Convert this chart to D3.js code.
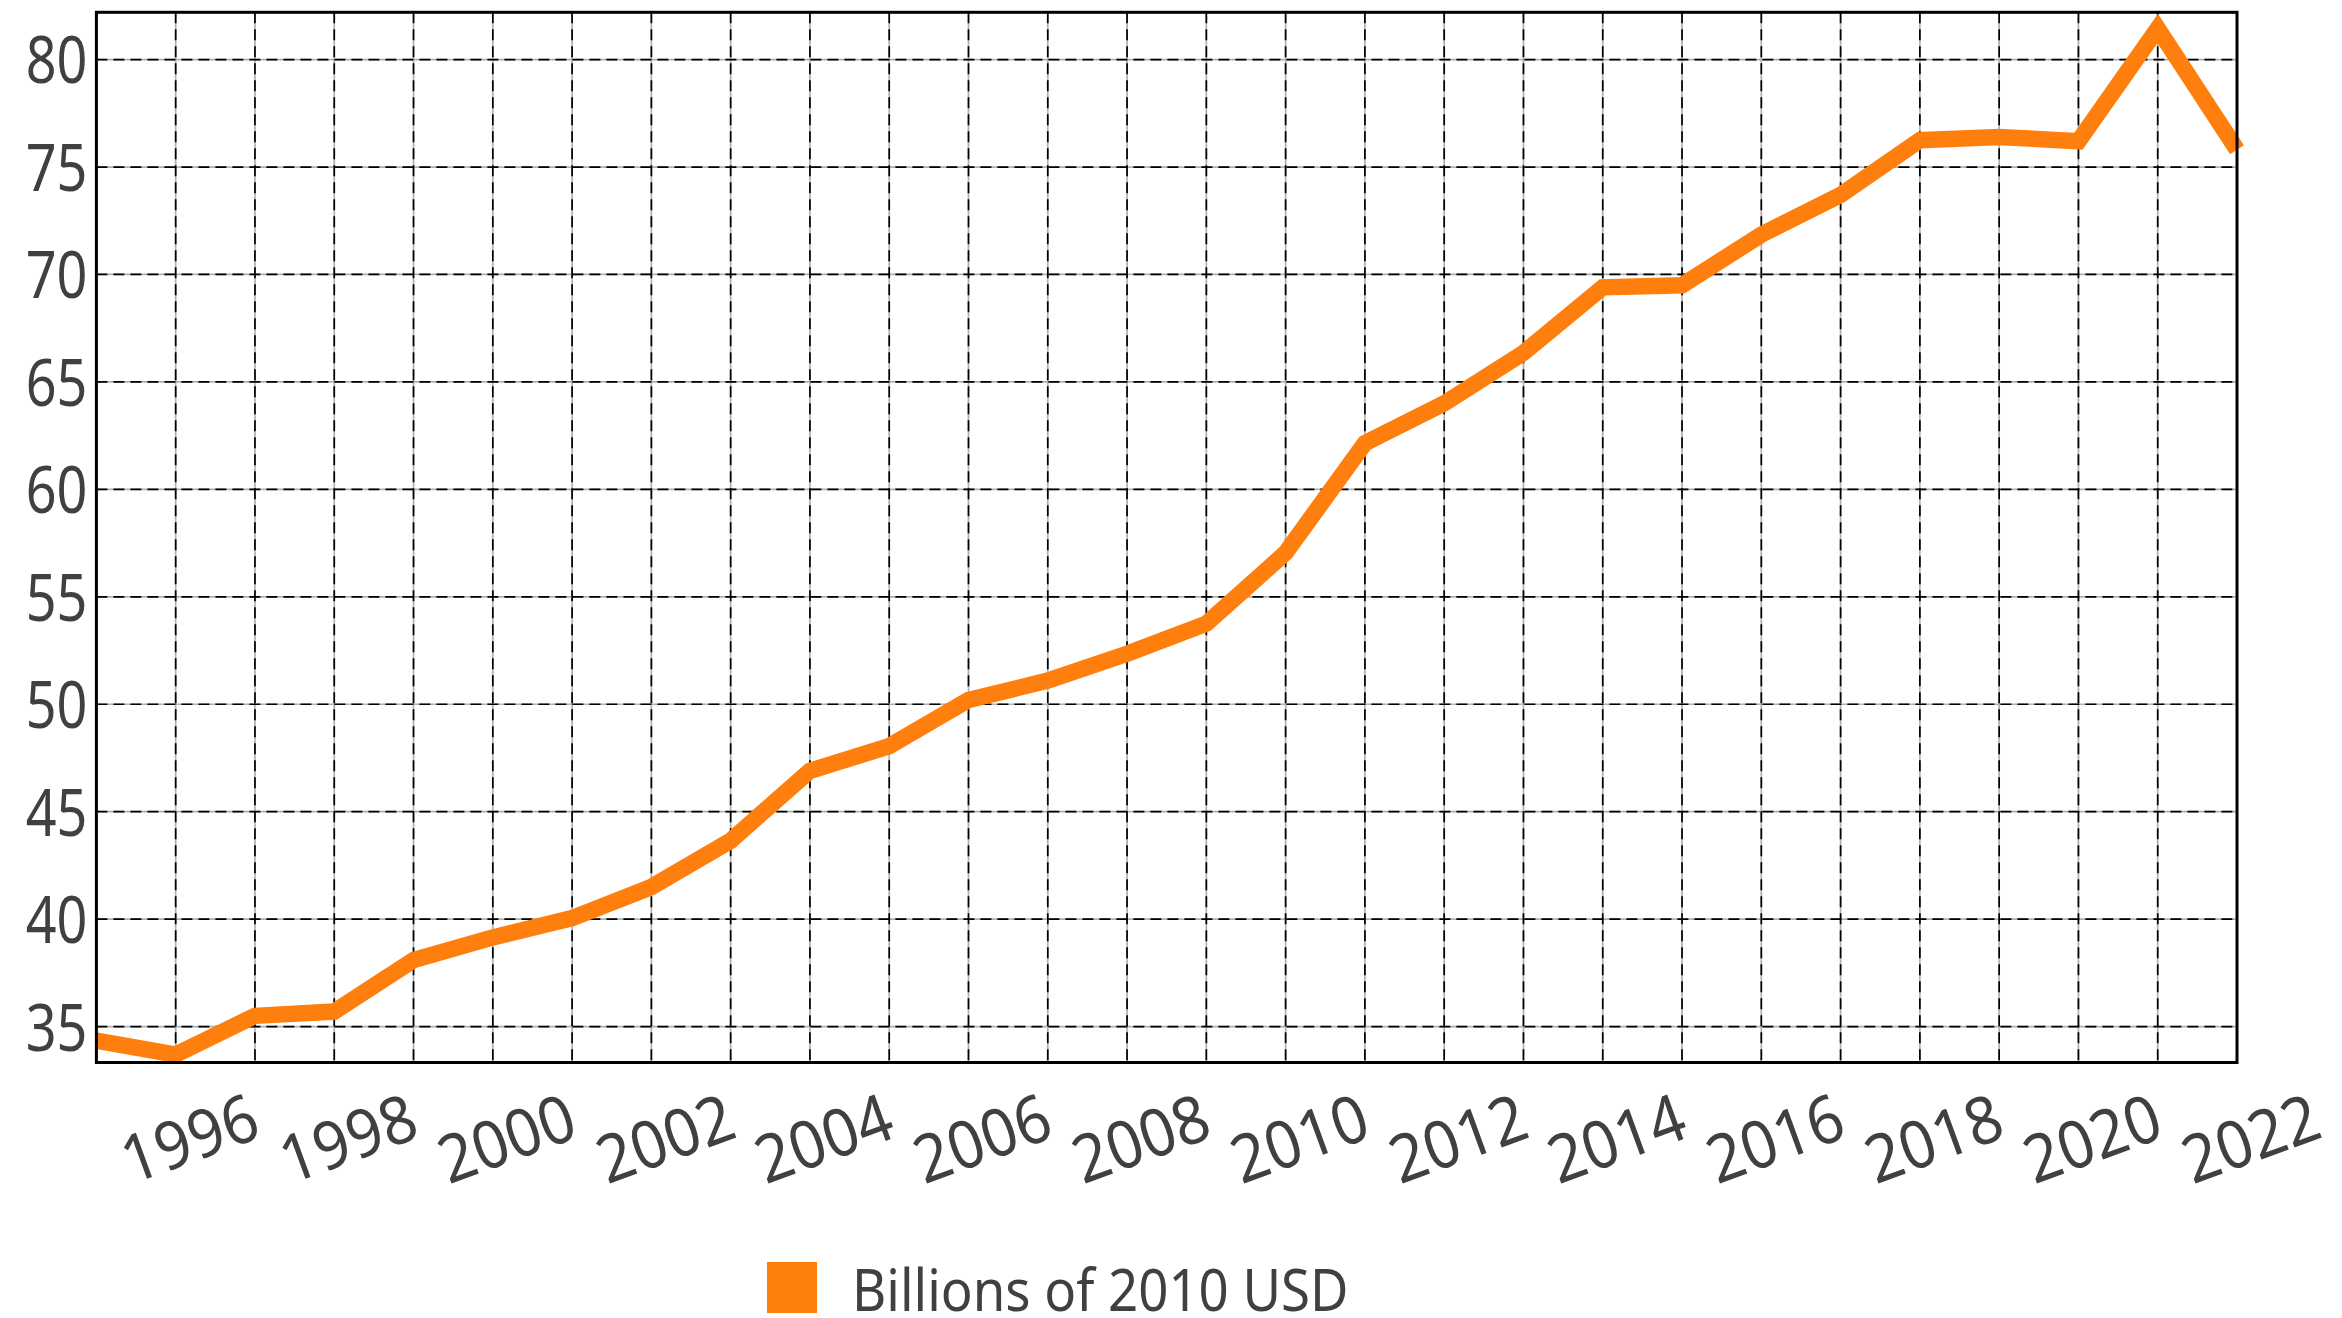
<html>
<head>
    <script src="https://d3js.org/d3.v7.min.js"></script>
    <style>
        body { margin: 0; background: #fff; }
        text { font-family: "Noto Sans", "Lato", sans-serif; fill: #404040; }
    </style>
</head>
<body>
<svg id="chart"></svg>
<script>
    // data
    const years = [1994, 1995, 1996, 1997, 1998, 1999, 2000, 2001, 2002, 2003,
                   2004, 2005, 2006, 2007, 2008, 2009, 2010, 2011, 2012, 2013,
                   2014, 2015, 2016, 2017, 2018, 2019, 2020, 2021];
    const values = [34.35, 33.7, 35.5, 35.7, 38.1, 39.15, 40.05, 41.5, 43.65, 46.9,
                    48.05, 50.2, 51.1, 52.35, 53.75, 57.05, 62.15, 64.0, 66.35, 69.4,
                    69.5, 71.85, 73.7, 76.25, 76.4, 76.2, 81.45, 75.8];
    const xTicks = [1996, 1998, 2000, 2002, 2004, 2006, 2008, 2010, 2012, 2014, 2016, 2018, 2020, 2022];
    const yTicks = [35, 40, 45, 50, 55, 60, 65, 70, 75, 80];
    const seriesName = "Billions of 2010 USD";

    const data = years.map(function (y, i) { return {year: y, value: values[i]}; });

    var svg = d3.select("#chart")
        .attr("width", 2342)
        .attr("height", 1318);

    var margin = {top: 12.3, right: 105, bottom: 255.5, left: 96.4},
        width = +svg.attr("width") - margin.left - margin.right,
        height = +svg.attr("height") - margin.top - margin.bottom;

    var g = svg.append("g").attr("transform", "translate(" + margin.left + "," + margin.top + ")");

    // the scales
    var x = d3.scaleLinear().domain(d3.extent(years)).range([0, width]);
    var y = d3.scaleLinear().domain([33.33, 82.2]).range([height, 0]);

    // grid: gray solid underlay, black dashes on top
    var gridYears = d3.range(years[0] + 1, years[years.length - 1]);
    function grid(cls, color, dash) {
        var gg = g.append("g").attr("class", cls);
        gg.selectAll("line.v").data(gridYears).enter().append("line")
            .attr("x1", function (d) { return x(d); })
            .attr("x2", function (d) { return x(d); })
            .attr("y1", 0).attr("y2", height)
            .attr("stroke", color).attr("stroke-width", 1.7)
            .attr("stroke-dasharray", dash);
        gg.selectAll("line.h").data(yTicks).enter().append("line")
            .attr("x1", 0).attr("x2", width)
            .attr("y1", function (d) { return y(d); })
            .attr("y2", function (d) { return y(d); })
            .attr("stroke", color).attr("stroke-width", 1.7)
            .attr("stroke-dasharray", dash);
    }
    grid("grid-under", "#b0b0b0", null);
    grid("grid-dash", "#000", "11,6");

    // the axes
    var xAxis = d3.axisBottom(x).tickValues(xTicks).tickSize(0).tickFormat(d3.format("d"));
    var yAxis = d3.axisLeft(y).tickValues(yTicks).tickSize(0);

    var gx = g.append("g")
        .attr("transform", "translate(0," + height + ")")
        .call(xAxis);
    gx.select(".domain").remove();
    gx.selectAll("text")
        .attr("x", 0).attr("y", 0).attr("dy", 0)
        .attr("text-anchor", "end")
        .attr("transform", "translate(8,74) rotate(-20) scale(0.93,1)")
        .style("font-size", "66px")
        .attr("fill", "#404040");

    var gy = g.append("g").call(yAxis);
    gy.select(".domain").remove();
    gy.selectAll("text")
        .attr("x", 0)
        .attr("dy", "0.36em")
        .attr("transform", "translate(-9,0) scale(0.83,1)")
        .style("font-size", "65px")
        .attr("fill", "#404040");

    // the line
    var line = d3.line()
        .x(function (d) { return x(d.year); })
        .y(function (d) { return y(d.value); });

    g.append("path").datum(data)
        .attr("fill", "none")
        .attr("stroke", "#ff7f0e")
        .attr("stroke-width", 16.5)
        .attr("stroke-linejoin", "miter")
        .attr("stroke-miterlimit", 10)
        .attr("stroke-linecap", "butt")
        .attr("d", line);

    // frame
    g.append("rect")
        .attr("x", 0).attr("y", 0)
        .attr("width", width).attr("height", height)
        .attr("fill", "none")
        .attr("stroke", "#000")
        .attr("stroke-width", 3);

    // legend
    var legend = svg.append("g").attr("transform", "translate(767,1262)");
    legend.append("rect")
        .attr("width", 50).attr("height", 51)
        .attr("fill", "#ff7f0e");
    legend.append("text")
        .attr("transform", "translate(85,49) scale(0.91,1)")
        .style("font-size", "58px")
        .text(seriesName);
</script>
</body>
</html>
